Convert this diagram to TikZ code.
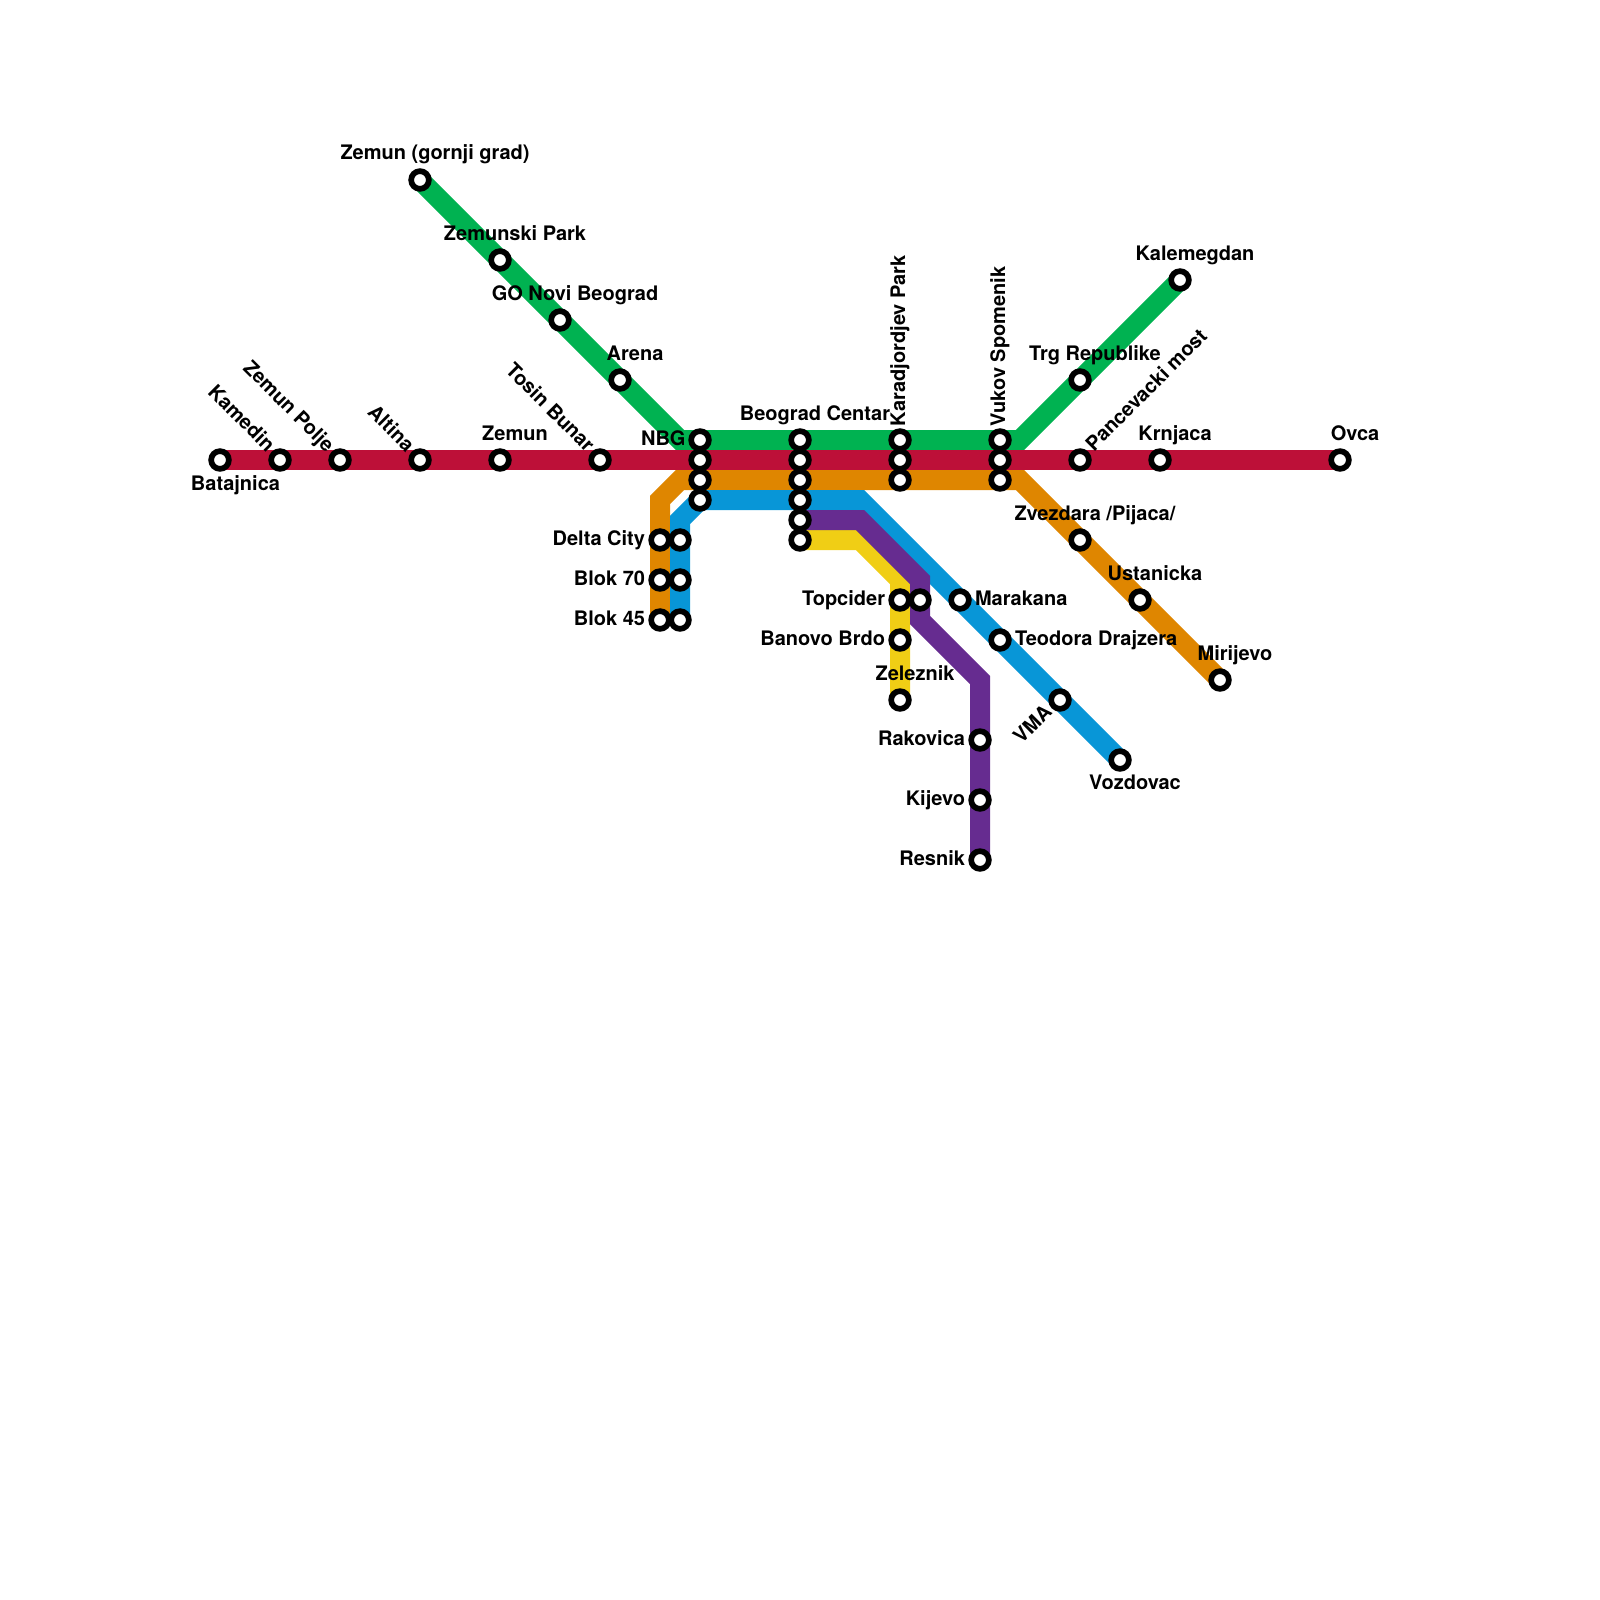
\documentclass[tikz,border=0pt]{standalone}
\usepackage{fontspec}
\setmainfont{TeX Gyre Heros}
\definecolor{mgreen}{HTML}{00B251}
\definecolor{mred}{HTML}{BD1038}
\definecolor{morange}{HTML}{DF8600}
\definecolor{mblue}{HTML}{0896D7}
\definecolor{mpurple}{HTML}{662C90}
\definecolor{myellow}{HTML}{F0CE15}
\pgfdeclarelayer{lines}
\pgfsetlayers{lines,main}
\tikzset{
  stn/.style={circle,draw=black,fill=white,line width=2.85pt,minimum size=8.85pt,inner sep=0pt},
  lab/.style={inner sep=0pt,outer sep=0pt,text=black,font=\fontsize{10}{12}\selectfont\bfseries},
  labc/.style={lab,anchor=base},
  labl/.style={lab,anchor=base east},
  labr/.style={lab,anchor=base west},
  metro/.style={line width=10pt,line join=miter,line cap=butt},
}
\begin{document}
\begin{tikzpicture}[x=0.5pt,y=-0.5pt]
\useasboundingbox (0,0) rectangle (1600,1600);
% stations: red
\node[stn] (bat) at (220,460) {};
\node[stn] (kam) at (280,460) {};
\node[stn] (zpo) at (340,460) {};
\node[stn] (alt) at (420,460) {};
\node[stn] (zem) at (500,460) {};
\node[stn] (tos) at (600,460) {};
\node[stn] (r1) at (700,460) {};
\node[stn] (r2) at (800,460) {};
\node[stn] (r3) at (900,460) {};
\node[stn] (r4) at (1000,460) {};
\node[stn] (pan) at (1080,460) {};
\node[stn] (krn) at (1160,460) {};
\node[stn] (ovc) at (1340,460) {};
% green
\node[stn] (zgg) at (420,180) {};
\node[stn] (zpk) at (500,260) {};
\node[stn] (gon) at (560,320) {};
\node[stn] (are) at (620,380) {};
\node[stn] (nbg) at (700,440) {};
\node[stn] (beo) at (800,440) {};
\node[stn] (kar) at (900,440) {};
\node[stn] (vuk) at (1000,440) {};
\node[stn] (trg) at (1080,380) {};
\node[stn] (kal) at (1180,280) {};
% orange
\node[stn] (o1) at (700,480) {};
\node[stn] (o2) at (800,480) {};
\node[stn] (o3) at (900,480) {};
\node[stn] (o4) at (1000,480) {};
\node[stn] (del) at (660,540) {};
\node[stn] (b70) at (660,580) {};
\node[stn] (b45) at (660,620) {};
\node[stn] (zve) at (1080,540) {};
\node[stn] (ust) at (1140,600) {};
\node[stn] (mir) at (1220,680) {};
% blue
\node[stn] (b1) at (700,500) {};
\node[stn] (b2) at (800,500) {};
\node[stn] (bd) at (680,540) {};
\node[stn] (bb) at (680,580) {};
\node[stn] (bc) at (680,620) {};
\node[stn] (mar) at (960,600) {};
\node[stn] (teo) at (1000,640) {};
\node[stn] (vma) at (1060,700) {};
\node[stn] (voz) at (1120,760) {};
% purple
\node[stn] (p1) at (800,520) {};
\node[stn] (p2) at (920,600) {};
\node[stn] (rak) at (980,740) {};
\node[stn] (kij) at (980,800) {};
\node[stn] (res) at (980,860) {};
% yellow
\node[stn] (y1) at (800,540) {};
\node[stn] (top) at (900,600) {};
\node[stn] (ban) at (900,640) {};
\node[stn] (zel) at (900,700) {};
% bends
\coordinate (gb1) at (680,440);
\coordinate (gb2) at (1020,440);
\coordinate (ob1) at (660,500);
\coordinate (ob2) at (680,480);
\coordinate (ob3) at (1020,480);
\coordinate (bb1) at (680,520);
\coordinate (bb2) at (860,500);
\coordinate (pb1) at (860,520);
\coordinate (pb2) at (920,580);
\coordinate (pb3) at (920,620);
\coordinate (pb4) at (980,680);
\coordinate (yb1) at (860,540);
\coordinate (yb2) at (900,580);
\begin{pgfonlayer}{lines}
\draw[metro,mgreen] (zgg.center) -- (gb1) -- (gb2) -- (kal.center);
\draw[metro,mred] (bat.center) -- (ovc.center);
\draw[metro,myellow] (y1.center) -- (yb1) -- (yb2) -- (zel.center);
\draw[metro,morange] (b45.center) -- (ob1) -- (ob2) -- (ob3) -- (mir.center);
\draw[metro,mblue] (bc.center) -- (bb1) -- (b1.center) -- (bb2) -- (voz.center);
\draw[metro,mpurple] (p1.center) -- (pb1) -- (pb2) -- (pb3) -- (pb4) -- (res.center);
\end{pgfonlayer}
% labels
\node[labc] (lbat) at (235.5,490) {Batajnica};
\node[lab,anchor=base east,rotate=-45] (lkam) at (266.5,453) {Kamedin};
\node[lab,anchor=base east,rotate=-45] (lzpo) at (326,453) {Zemun Polje};
\node[lab,anchor=base east,rotate=-45] (lalt) at (406,453) {Altina};
\node[labc] (lzem) at (515,440) {Zemun};
\node[lab,anchor=base east,rotate=-45] (ltos) at (586,453) {Tosin Bunar};
\node[labc] (lzgg) at (435,160) {Zemun (gornji grad)};
\node[labc] (lzpk) at (515,240) {Zemunski Park};
\node[labc] (lgon) at (575,300) {GO Novi Beograd};
\node[labc] (lare) at (635,360) {Arena};
\node[labl] (lnbg) at (685.5,445.5) {NBG};
\node[labc] (lbeo) at (815,420) {Beograd Centar};
\node[lab,anchor=base west,rotate=90] (lkar) at (905,426) {Karadjordjev Park};
\node[lab,anchor=base west,rotate=90] (lvuk) at (1005,426) {Vukov Spomenik};
\node[labc] (ltrg) at (1095,360) {Trg Republike};
\node[labc] (lkal) at (1195,260) {Kalemegdan};
\node[lab,anchor=base west,rotate=45] (lpan) at (1094,452) {Pancevacki most};
\node[labc] (lkrn) at (1175,440) {Krnjaca};
\node[labc] (lovc) at (1355,440) {Ovca};
\node[labl] (ldel) at (645,545) {Delta City};
\node[labl] (lb70) at (645,585) {Blok 70};
\node[labl] (lb45) at (645,625.5) {Blok 45};
\node[labc] (lzve) at (1095,520) {Zvezdara /Pijaca/};
\node[labc] (lust) at (1155,580) {Ustanicka};
\node[labc] (lmir) at (1235,660) {Mirijevo};
\node[labl] (ltop) at (885,605.5) {Topcider};
\node[labl] (lban) at (885,645.5) {Banovo Brdo};
\node[labc] (lzel) at (915,680) {Zeleznik};
\node[labr] (lmar) at (975,605.5) {Marakana};
\node[labr] (lteo) at (1015,645.5) {Teodora Drajzera};
\node[lab,anchor=base east,rotate=45] (lvma) at (1053,713.5) {VMA};
\node[labc] (lvoz) at (1135,789.5) {Vozdovac};
\node[labl] (lrak) at (965,745.5) {Rakovica};
\node[labl] (lkij) at (965,805.5) {Kijevo};
\node[labl] (lres) at (965,865.5) {Resnik};
\end{tikzpicture}
\end{document}
